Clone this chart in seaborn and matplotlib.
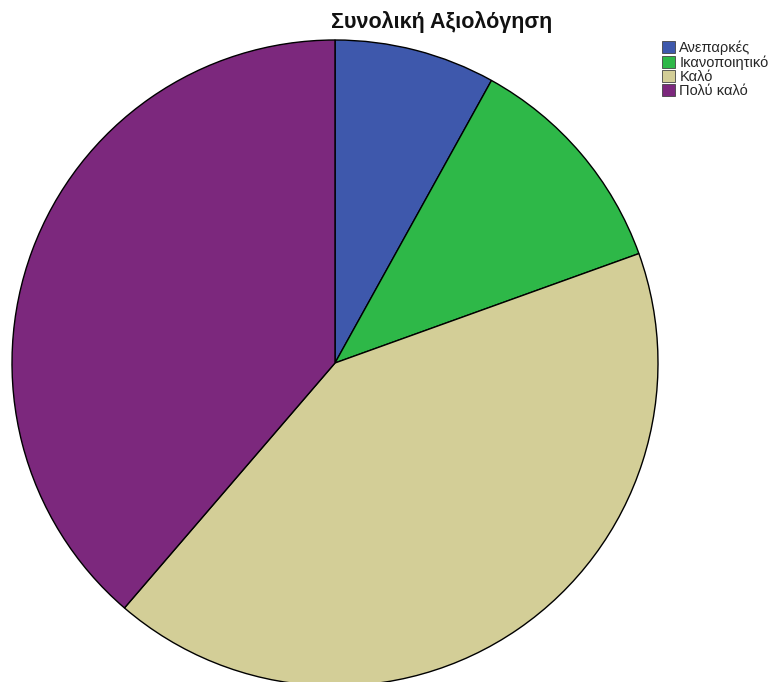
import matplotlib
matplotlib.use("Agg")
import matplotlib.pyplot as plt
import seaborn as sns
from matplotlib.patches import Patch

sns.set_theme(style="white")
plt.rcParams['font.family'] = ['Liberation Sans', 'DejaVu Sans']

categories = ["Ανεπαρκές", "Ικανοποιητικό", "Καλό", "Πολύ καλό"]
values = [8.05, 11.45, 41.8, 38.7]
colors = ["#3E58AC", "#2EB848", "#D3CE97", "#7C287D"]
title = "Συνολική Αξιολόγηση"

fig = plt.figure(figsize=(7.75, 6.82), dpi=100)
W, H = 775, 682
cx, cy, r = 335, 363, 323
ax = fig.add_axes([(cx - r) / W, (H - cy - r) / H, 2 * r / W, 2 * r / H])
ax.pie(values, colors=colors, startangle=90, counterclock=False,
       wedgeprops=dict(edgecolor="black", linewidth=1.0), radius=1.0)
ax.set_xlim(-1, 1)
ax.set_ylim(-1, 1)
ax.set_axis_off()

fig.text(442 / W, 1 - 22 / H, title, ha="center", va="center",
         fontsize=15.5, fontweight="bold", color="#111111")

handles = [Patch(facecolor=c, edgecolor="#444444", linewidth=0.6) for c in colors]
fig.legend(handles, categories, loc="upper left",
           bbox_to_anchor=(659 / W, 1 - 38 / H), frameon=False,
           fontsize=10.5, handlelength=0.9, handleheight=0.9,
           handletextpad=0.3, labelspacing=0.0, borderaxespad=0, borderpad=0.2)

fig.savefig("out.png", dpi=100)
